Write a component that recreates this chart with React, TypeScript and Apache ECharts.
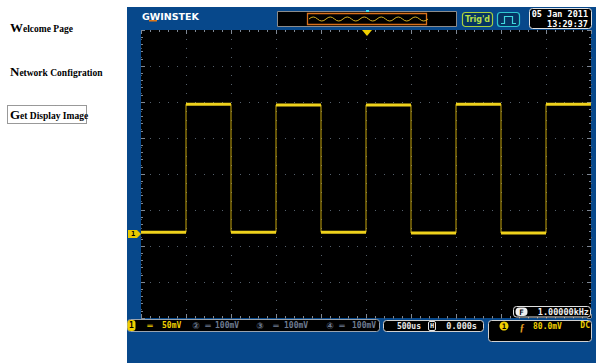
import React, { useEffect, useRef } from 'react';
import * as echarts from 'echarts';

const edgeTimesUs = [-2000, -1500, -1000, -500, 0, 500, 1000, 1500, 2000];
const segmentLevelsMv = [-81, 97, -81, 96, -81, 96, -82, 97, -82, 97];
const timeRangeUs = [-2500, 2500];
const voltRangeMv = [-200, 200];
const timePerDivUs = 500;
const voltPerDivMv = 50;

const navFirst = ['W', 'N', 'G'];
const navRest = ['elcome Page', 'etwork Configration', 'et Display Image'];
const channelBadges = ['1', '②', '③', '④'];
const channelScales = ['50mV', '100mV', '100mV', '100mV'];
const timebaseText = '500us';
const hPositionText = '0.000s';
const triggerLevelText = '80.0mV';
const couplingText = 'DC';
const frequencyText = '1.00000kHz';
const dateText = '05 Jan 2011';
const clockText = '13:29:37';
const trigStatusText = "Trig'd";

const TRACE = '#efd21c';
const PANEL = '#07488b';
const MONO = '"DejaVu Sans Mono", monospace';
const SERIF = '"Liberation Serif", "Times New Roman", serif';

let registered = false;
function registerShapes() {
  if (registered) return;
  registered = true;
  const halves = new Array(13).fill('t8.5 0').join(' ');
  echarts.graphic.registerShape('wave', echarts.graphic.extendPath('M0 0 q4.25 -4 8.5 0 ' + halves, {}) as any);
}

export default function App() {
  const ref = useRef<HTMLDivElement>(null);
  useEffect(() => {
    if (!ref.current) return;
    registerShapes();
    const chart = echarts.init(ref.current, undefined, { renderer: 'svg' });

    const bounds = [timeRangeUs[0], ...edgeTimesUs, timeRangeUs[1]];
    const stepData: number[][] = [];
    segmentLevelsMv.forEach((lv, i) => {
      stepData.push([bounds[i], lv], [bounds[i + 1], lv]);
    });
    const flatSeries = segmentLevelsMv.map((lv, i) => ({
      type: 'line',
      data: [[bounds[i], lv], [bounds[i + 1], lv]],
      showSymbol: false,
      silent: true,
      lineStyle: { color: TRACE, width: 3 },
      z: 5,
    }));

    const tickCommon = {
      axisLine: { show: false, onZero: false },
      axisLabel: { show: false },
      axisTick: { show: true, inside: true, length: 4, lineStyle: { color: '#7f8894' } },
      minorTick: { show: true, splitNumber: 5, length: 2, lineStyle: { color: '#7f8894' } },
    };
    const dotted = { show: true, lineStyle: { color: '#55606c', width: 1, type: [1, 8] } };

    const g: any[] = [];
    // left navigation
    const navBottoms = [34, 78, 121];
    navFirst.forEach((f, i) => {
      g.push({
        type: 'text',
        x: 10,
        y: navBottoms[i],
        style: {
          text: `{a|${f}}{b|${navRest[i]}}`,
          verticalAlign: 'bottom',
          rich: {
            a: { fontFamily: SERIF, fontWeight: 'bold', fontSize: 13, fill: '#000', verticalAlign: 'bottom' },
            b: { fontFamily: SERIF, fontWeight: 'bold', fontSize: 9.5, fill: '#000', verticalAlign: 'bottom' },
          },
        },
      });
    });
    g.push({
      type: 'rect',
      shape: { x: 7.5, y: 105.5, width: 79, height: 18 },
      style: { fill: 'none', stroke: '#333', lineWidth: 1, lineDash: [1, 1] },
    });

    // blue panel
    g.push({ type: 'rect', z: -10, shape: { x: 127, y: 7, width: 469, height: 356 }, style: { fill: PANEL } });

    // logo
    g.push({
      type: 'text', x: 142, y: 16.5,
      style: {
        text: 'GWINSTEK', fill: '#fff', fontFamily: '"DejaVu Sans", sans-serif', fontWeight: 'bold', fontSize: 9.5,
        verticalAlign: 'middle',
      },
    });
    g.push({ type: 'rect', shape: { x: 149, y: 20, width: 8, height: 1.5 }, style: { fill: '#e07818' } });

    // memory bar
    g.push({ type: 'rect', shape: { x: 277.5, y: 11.5, width: 179, height: 15 }, style: { fill: '#000', stroke: '#8c8c8c', lineWidth: 1 } });
    g.push({ type: 'rect', shape: { x: 307.5, y: 13.5, width: 119, height: 11 }, style: { fill: 'none', stroke: '#d8701c', lineWidth: 1.3 } });
    g.push({ type: 'wave', x: 309, y: 19, style: { fill: 'none', stroke: '#d8b020', lineWidth: 1 } });
    g.push({ type: 'rect', shape: { x: 366, y: 10, width: 3, height: 2 }, style: { fill: '#40e0f0' } });

    // Trig'd
    g.push({ type: 'rect', shape: { x: 462.5, y: 12.5, width: 30, height: 14, r: 3 }, style: { fill: '#063463', stroke: '#a8d040', lineWidth: 1.2 } });
    g.push({ type: 'text', x: 477.5, y: 19.5, style: { text: trigStatusText, fill: '#b8e048', fontFamily: '"DejaVu Sans", sans-serif', fontWeight: 'bold', fontSize: 8, align: 'center', verticalAlign: 'middle' } });
    // pulse icon
    g.push({ type: 'rect', shape: { x: 497.5, y: 12.5, width: 22, height: 14, r: 3 }, style: { fill: '#063463', stroke: '#30c8d0', lineWidth: 1.2 } });
    g.push({ type: 'polyline', shape: { points: [[501, 23.5], [504.5, 23.5], [504.5, 16.5], [512.5, 16.5], [512.5, 23.5], [516, 23.5]] }, style: { fill: 'none', stroke: '#40d8e0', lineWidth: 1.2 } });
    // date box
    g.push({ type: 'rect', shape: { x: 529.5, y: 8.5, width: 62, height: 20, r: 3 }, style: { fill: '#000', stroke: '#e0e0e0', lineWidth: 1 } });
    g.push({ type: 'text', x: 588, y: 13.5, style: { text: dateText, fill: '#fff', fontFamily: MONO, fontWeight: 'bold', fontSize: 8.5, align: 'right', verticalAlign: 'middle' } });
    g.push({ type: 'text', x: 588, y: 23.5, style: { text: clockText, fill: '#fff', fontFamily: MONO, fontWeight: 'bold', fontSize: 8.5, align: 'right', verticalAlign: 'middle' } });

    // trigger position marker and ground marker
    g.push({ type: 'polygon', z: 20, shape: { points: [[362, 30], [372, 30], [367, 36]] }, style: { fill: '#f0d000' } });
    g.push({ type: 'polygon', z: 20, shape: { points: [[128, 230], [137, 230], [141, 234], [137, 238], [128, 238]] }, style: { fill: '#e8c800' } });
    g.push({ type: 'text', z: 21, x: 133, y: 234, style: { text: '1', fill: '#000', fontFamily: MONO, fontWeight: 'bold', fontSize: 7, align: 'center', verticalAlign: 'middle' } });

    // channel row
    g.push({ type: 'rect', shape: { x: 127.5, y: 319.5, width: 252, height: 12, r: 3 }, style: { fill: '#000', stroke: '#9aa4b0', lineWidth: 1 } });
    g.push({ type: 'rect', shape: { x: 127.5, y: 320, width: 8, height: 11, r: 3 }, style: { fill: '#f0d000' } });
    const badgeX = [131.5, 196, 260, 330];
    const eqX = [150, 208, 276, 342];
    const scaleX = [162, 215, 284, 352];
    channelBadges.forEach((b, i) => {
      const col = i === 0 ? '#000' : '#6e7c92';
      const vcol = i === 0 ? '#f0d000' : '#6e7c92';
      g.push({ type: 'text', x: badgeX[i], y: 325.5, style: { text: b, fill: col, fontFamily: i === 0 ? MONO : '"DejaVu Sans", "Noto Sans CJK SC", sans-serif', fontWeight: 'bold', fontSize: i === 0 ? 8 : 9, align: 'center', verticalAlign: 'middle' } });
      g.push({ type: 'text', x: eqX[i], y: 325.5, style: { text: '═', fill: vcol, fontFamily: MONO, fontWeight: 'bold', fontSize: 9, align: 'center', verticalAlign: 'middle' } });
      g.push({ type: 'text', x: scaleX[i], y: 325.5, style: { text: channelScales[i], fill: vcol, fontFamily: MONO, fontWeight: 'bold', fontSize: 8, align: 'left', verticalAlign: 'middle' } });
    });

    // timebase box
    g.push({ type: 'rect', shape: { x: 383.5, y: 320.5, width: 100, height: 11, r: 3 }, style: { fill: '#000', stroke: '#d0d0d0', lineWidth: 1 } });
    g.push({ type: 'text', x: 421, y: 326, style: { text: timebaseText, fill: '#e8e8e8', fontFamily: MONO, fontWeight: 'bold', fontSize: 8, align: 'right', verticalAlign: 'middle' } });
    g.push({ type: 'rect', shape: { x: 428.5, y: 321.5, width: 7, height: 9, r: 1.5 }, style: { fill: '#000', stroke: '#e8e8e8', lineWidth: 1 } });
    g.push({ type: 'text', x: 432, y: 326, style: { text: 'H', fill: '#e8e8e8', fontFamily: MONO, fontWeight: 'bold', fontSize: 7, align: 'center', verticalAlign: 'middle' } });
    g.push({ type: 'text', x: 477, y: 326, style: { text: hPositionText, fill: '#e8e8e8', fontFamily: MONO, fontWeight: 'bold', fontSize: 8.5, align: 'right', verticalAlign: 'middle' } });

    // trigger box
    g.push({ type: 'rect', shape: { x: 488.5, y: 320.5, width: 103, height: 21, r: 3 }, style: { fill: '#000', stroke: '#d0d0d0', lineWidth: 1 } });
    g.push({ type: 'circle', shape: { cx: 504, cy: 326, r: 4.5 }, style: { fill: '#f0d000' } });
    g.push({ type: 'text', x: 504, y: 326.3, style: { text: '1', fill: '#000', fontFamily: MONO, fontWeight: 'bold', fontSize: 7.5, align: 'center', verticalAlign: 'middle' } });
    g.push({ type: 'text', x: 522, y: 327, style: { text: 'ƒ', fill: '#e8a020', fontFamily: SERIF, fontWeight: 'bold', fontSize: 10, align: 'center', verticalAlign: 'middle' } });
    g.push({ type: 'text', x: 533, y: 326, style: { text: triggerLevelText, fill: '#f0d000', fontFamily: MONO, fontWeight: 'bold', fontSize: 8, align: 'left', verticalAlign: 'middle' } });
    g.push({ type: 'text', x: 590, y: 325, style: { text: couplingText, fill: '#f0d000', fontFamily: MONO, fontWeight: 'bold', fontSize: 8, align: 'right', verticalAlign: 'middle' } });

    // frequency box
    g.push({ type: 'rect', z: 20, shape: { x: 513.5, y: 306.5, width: 77, height: 10.5, r: 3 }, style: { fill: '#000', stroke: '#e0e0e0', lineWidth: 1 } });
    g.push({ type: 'rect', z: 21, shape: { x: 515.5, y: 307.5, width: 12, height: 8.5, r: 4 }, style: { fill: '#f0f0f0' } });
    g.push({ type: 'text', z: 22, x: 521.5, y: 312, style: { text: 'F', fill: '#000', fontFamily: MONO, fontWeight: 'bold', fontSize: 7.5, align: 'center', verticalAlign: 'middle' } });
    g.push({ type: 'text', z: 22, x: 589, y: 312, style: { text: frequencyText, fill: '#f0f0f0', fontFamily: MONO, fontWeight: 'bold', fontSize: 8.5, align: 'right', verticalAlign: 'middle' } });

    chart.setOption({
      animation: false,
      backgroundColor: '#fff',
      grid: { left: 141, top: 30, width: 450, height: 288, show: true, backgroundColor: '#000', borderWidth: 0 },
      xAxis: [
        { type: 'value', min: timeRangeUs[0], max: timeRangeUs[1], interval: timePerDivUs, position: 'bottom', ...tickCommon, splitLine: dotted },
        { type: 'value', min: timeRangeUs[0], max: timeRangeUs[1], interval: timePerDivUs, position: 'top', ...tickCommon, splitLine: { show: false } },
      ],
      yAxis: [
        { type: 'value', min: voltRangeMv[0], max: voltRangeMv[1], interval: voltPerDivMv, position: 'left', ...tickCommon, splitLine: dotted },
        { type: 'value', min: voltRangeMv[0], max: voltRangeMv[1], interval: voltPerDivMv, position: 'right', ...tickCommon, splitLine: { show: false } },
      ],
      series: [
        {
          type: 'line',
          data: stepData,
          showSymbol: false,
          silent: true,
          lineStyle: { color: '#c9a80e', width: 1 },
          z: 4,
        },
        ...flatSeries,
      ],
      graphic: { elements: g },
    });
    return () => chart.dispose();
  }, []);

  return <div ref={ref} style={{ position: 'absolute', left: 0, top: 0, width: 598, height: 363 }} />;
}
